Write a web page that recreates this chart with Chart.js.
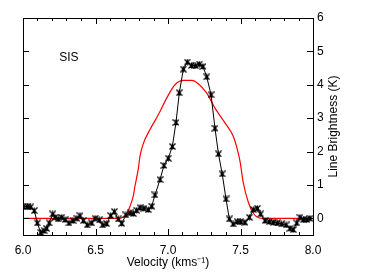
<!DOCTYPE html>
<html>
<head>
<meta charset="utf-8">
<script src="https://cdn.jsdelivr.net/npm/chart.js@4.4.1/dist/chart.umd.min.js"></script>
<style>
  body { margin: 0; background: #fff; }
  canvas { display: block; }
</style>
</head>
<body>
<canvas id="chart" width="381" height="272"></canvas>
<script>
// observed spectrum (black, asterisks)
const obsVelocity = [6.002, 6.030, 6.053, 6.078, 6.099, 6.122, 6.145, 6.163, 6.181, 6.205,
  6.221, 6.243, 6.267, 6.290, 6.317, 6.345, 6.372, 6.393, 6.416, 6.443,
  6.474, 6.497, 6.526, 6.550, 6.577, 6.605, 6.630, 6.657, 6.681, 6.710,
  6.738, 6.761, 6.784, 6.807, 6.834, 6.864, 6.888, 6.910, 6.945, 6.972,
  7.002, 7.030, 7.055, 7.078, 7.106, 7.133, 7.162, 7.190, 7.216, 7.241,
  7.267, 7.297, 7.324, 7.348, 7.374, 7.400, 7.423, 7.450, 7.478, 7.501,
  7.531, 7.561, 7.588, 7.616, 7.639, 7.669, 7.699, 7.726, 7.754, 7.784,
  7.814, 7.841, 7.864, 7.888, 7.910, 7.933, 7.957, 7.979]
const obsBrightness = [0.35, 0.35, 0.34, 0.23, -0.14, -0.42, -0.37, -0.30, -0.14, 0.13,
  0.03, -0.02, 0.03, -0.04, -0.14, -0.07, 0.00, 0.08, -0.07, -0.20,
  -0.14, 0.00, -0.05, -0.20, -0.16, 0.08, 0.20, -0.02, -0.15, 0.10,
  0.16, 0.14, 0.24, 0.32, 0.30, 0.26, 0.36, 0.70, 1.16, 1.58,
  1.80, 2.15, 2.87, 3.76, 4.47, 4.68, 4.58, 4.57, 4.62, 4.55,
  4.24, 3.70, 2.70, 1.93, 1.33, 0.58, -0.02, -0.17, -0.10, -0.10,
  -0.12, 0.03, 0.26, 0.30, 0.13, -0.07, -0.10, -0.12, -0.14, -0.17,
  -0.20, -0.30, -0.34, -0.14, 0.03, -0.04, -0.04, 0.00]

// model profile (red)
const modelVelocity = [6.0, 6.50, 6.669, 6.703, 6.726, 6.738, 6.761, 6.772, 6.795, 6.807,
  6.830, 6.876, 6.933, 6.991, 7.048, 7.106, 7.163, 7.209, 7.267, 7.324,
  7.393, 7.450, 7.476, 7.497, 7.520, 7.554, 7.588, 7.614, 7.648, 8.0]
const modelBrightness = [0.0, 0.0, 0.0, 0.08, 0.23, 0.36, 0.68, 0.96, 1.48, 1.86,
  2.24, 2.66, 3.10, 3.60, 4.00, 4.13, 4.13, 4.03, 3.75, 3.30,
  2.86, 2.46, 2.10, 1.70, 1.05, 0.48, 0.15, 0.04, 0.0, 0.0]

const xTickValues = [6.0, 6.5, 7.0, 7.5, 8.0]
const yTickValues = [0, 1, 2, 3, 4, 5, 6]
const sourceName = "SIS"

const FONT = "'Liberation Sans', Arial, sans-serif"

const toPoints = (xs, ys) => xs.map((x, i) => ({ x: x, y: ys[i] }))

// asterisk marker like the IDL one
function makeMarker() {
  const c = document.createElement("canvas")
  c.width = 7
  c.height = 7
  const g = c.getContext("2d")
  g.strokeStyle = "#000"
  g.fillStyle = "#000"
  g.lineWidth = 1.2
  g.beginPath()
  g.moveTo(0.5, 0.5); g.lineTo(6.5, 6.5)
  g.moveTo(6.5, 0.5); g.lineTo(0.5, 6.5)
  g.moveTo(3.5, 0.5); g.lineTo(3.5, 6.5)
  g.stroke()
  g.fillRect(2, 2, 3, 3)
  return c
}

// frame, inward ticks, rotated right-hand title and the label
const framePlugin = {
  id: "frame",
  afterDraw(chart) {
    const ctx = chart.ctx
    const a = chart.chartArea
    const xs = chart.scales.x
    const ys = chart.scales.y
    ctx.save()
    ctx.strokeStyle = "#000"
    ctx.lineWidth = 1
    ctx.strokeRect(a.left + 0.5, a.top + 0.5, a.right - a.left, a.bottom - a.top)
    ctx.beginPath()
    for (let i = 0; i <= 20; i++) {
      const v = xs.min + i * 0.1
      const px = Math.round(xs.getPixelForValue(v)) + 0.5
      const len = (i % 5 === 0) ? 6 : 3
      ctx.moveTo(px, a.top); ctx.lineTo(px, a.top + len)
      ctx.moveTo(px, a.bottom); ctx.lineTo(px, a.bottom - len)
    }
    yTickValues.forEach(v => {
      const py = Math.round(ys.getPixelForValue(v)) + 0.5
      ctx.moveTo(a.left, py); ctx.lineTo(a.left + 6, py)
      ctx.moveTo(a.right, py); ctx.lineTo(a.right - 6, py)
    })
    ctx.stroke()

    ctx.fillStyle = "#000"
    ctx.font = "12px " + FONT
    ctx.textAlign = "center"
    ctx.textBaseline = "middle"
    ctx.translate(a.right + 21, (a.top + a.bottom) / 2)
    ctx.rotate(-Math.PI / 2)
    ctx.fillText("Line Brightness (K)", 0, 0)
    ctx.restore()

    ctx.save()
    ctx.fillStyle = "#000"
    ctx.font = "12px " + FONT
    ctx.textAlign = "left"
    ctx.textBaseline = "middle"
    ctx.fillText(sourceName, xs.getPixelForValue(6.25), ys.getPixelForValue(4.8))
    ctx.restore()
  }
}

new Chart(document.getElementById("chart"), {
  type: "line",
  data: {
    datasets: [
      {
        data: toPoints(modelVelocity, modelBrightness),
        borderColor: "#ff0000",
        borderWidth: 1.2,
        pointRadius: 0,
        cubicInterpolationMode: "monotone",
        order: 2
      },
      {
        data: toPoints(obsVelocity, obsBrightness),
        borderColor: "#000",
        borderWidth: 1,
        pointStyle: makeMarker(),
        pointRadius: 3,
        tension: 0,
        order: 1
      }
    ]
  },
  options: {
    responsive: false,
    animation: false,
    events: [],
    layout: { padding: { left: 23, top: 18, right: 0, bottom: 0 } },
    plugins: { legend: { display: false }, tooltip: { enabled: false } },
    scales: {
      x: {
        type: "linear",
        position: "bottom",
        min: 6,
        max: 8,
        afterBuildTicks: s => { s.ticks = xTickValues.map(v => ({ value: v })) },
        afterFit: s => { s.height = 37 },
        grid: { display: false, drawTicks: false },
        border: { display: false },
        ticks: {
          color: "#000",
          padding: 8,
          maxRotation: 0,
          font: { family: FONT, size: 12 },
          callback: v => Number(v).toFixed(1)
        },
        title: {
          display: true,
          text: "Velocity (kms⁻¹)",
          color: "#000",
          font: { family: FONT, size: 12 },
          padding: { top: 0, bottom: 2 }
        }
      },
      y: {
        type: "linear",
        position: "right",
        min: -0.5,
        max: 6,
        afterBuildTicks: s => { s.ticks = yTickValues.map(v => ({ value: v })) },
        afterFit: s => { s.width = 68 },
        grid: { display: false, drawTicks: false },
        border: { display: false },
        ticks: {
          color: "#000",
          padding: 4,
          font: { family: FONT, size: 12 }
        }
      }
    }
  },
  plugins: [framePlugin]
})
</script>
</body>
</html>
